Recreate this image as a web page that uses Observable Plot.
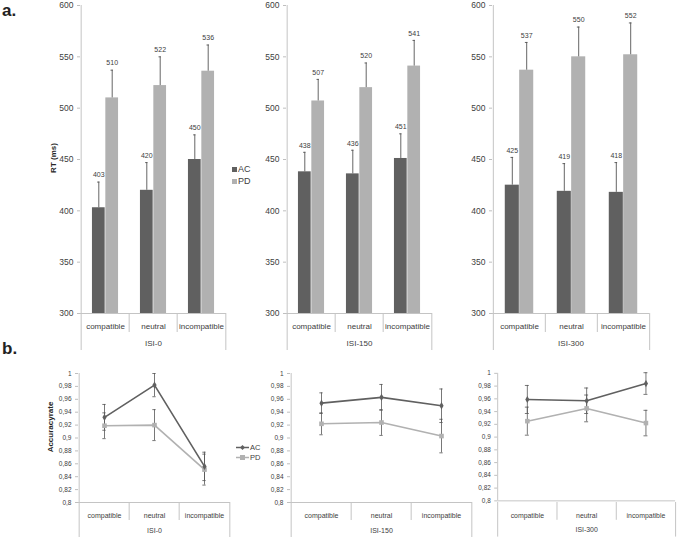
<!DOCTYPE html>
<html><head><meta charset="utf-8">
<script src="https://cdn.jsdelivr.net/npm/d3@7"></script>
<script src="https://cdn.jsdelivr.net/npm/@observablehq/plot@0.6"></script>
<style>
body{margin:0;background:#fff;font-family:"Liberation Sans",Arial,sans-serif;}
#root{position:relative;width:685px;height:539px;overflow:hidden;background:#fff;}
#root svg{position:absolute;overflow:visible;}
g[aria-label="y-axis"] line, g[aria-label="y-axis tick"] path{stroke:#bfbfbf;}
.t{position:absolute;color:#262626;white-space:nowrap;font-family:"Liberation Sans",Arial,sans-serif;}
.rot{transform:translate(-50%,-50%) rotate(-90deg);font-weight:bold;}
.lg{position:absolute;font-family:"Liberation Sans",Arial,sans-serif;color:#404040;}
.lg div{display:flex;align-items:center;}
</style></head><body><div id="root"></div>
<script>
// ---- data ----
const conditions = ["compatible", "neutral", "incompatible"];
const groups = ["AC", "PD"];
const isiLabels = ["ISI-0", "ISI-150", "ISI-300"];
const rtAC = [[403, 420, 450], [438, 436, 451], [425, 419, 418]];
const rtPD = [[510, 522, 536], [507, 520, 541], [537, 550, 552]];
const rtErrAC = [[25, 27, 24], [19, 23, 24], [27, 27, 29]];
const rtErrPD = [[27, 28, 25.5], [21, 24, 25], [27, 29, 31]];
const rtTicks = [300, 350, 400, 450, 500, 550, 600];
const accAC = [[0.932, 0.982, 0.856], [0.954, 0.963, 0.950], [0.959, 0.957, 0.984]];
const accPD = [[0.919, 0.920, 0.851], [0.922, 0.924, 0.903], [0.925, 0.945, 0.922]];
const accErrAC = [[0.020, 0.018, 0.022], [0.016, 0.020, 0.026], [0.022, 0.020, 0.017]];
const accErrPD = [[0.020, 0.024, 0.024], [0.017, 0.020, 0.026], [0.022, 0.021, 0.020]];
const accTicks = [0.8, 0.82, 0.84, 0.86, 0.88, 0.9, 0.92, 0.94, 0.96, 0.98, 1];

// ---- style / layout ----
const C = {dark: "#606060", light: "#b1b1b1", err: "#555555", axis: "#c4c4c4", text: "#404040"};
const FONT = "Liberation Sans, Arial, sans-serif";
const topLayout = [{x0: 80, x1: 226}, {x0: 286, x1: 432}, {x0: 492, x1: 649}];
const botLayout = [{x0: 78, x1: 230}, {x0: 290, x1: 472}, {x0: 503, x1: 683}];
const root = document.getElementById("root");
function place(el, left, top) { el.style.left = left + "px"; el.style.top = top + "px"; root.appendChild(el); }
function html(cls, txt, left, top, css) { const d = document.createElement("div"); d.className = cls; d.textContent = txt; Object.assign(d.style, css || {}); place(d, left, top); return d; }
const xBand = {type: "band", domain: conditions, padding: 0, axis: null};

// ---- panel a: reaction time bars ----
topLayout.forEach((L, p) => {
  const rows = conditions.map((c, i) => ({cond: c, ac: rtAC[p][i], pd: rtPD[p][i], eac: rtErrAC[p][i], epd: rtErrPD[p][i]}));
  const bw = (L.x1 - L.x0) / 3, barW = bw * 0.275, gap = (bw - 2 * barW) / 2;
  const cap = 1.5;
  const main = Plot.plot({
    width: L.x1 + 10, height: 333, marginLeft: L.x0, marginRight: 10, marginTop: 5, marginBottom: 20,
    style: {background: "transparent", fontFamily: FONT, fontSize: "8.5px", color: C.text},
    x: xBand,
    y: {domain: [rtTicks[0], rtTicks[rtTicks.length - 1]], ticks: rtTicks, tickSize: 3, tickPadding: 4, label: null},
    marks: [
      Plot.barY(rows, {x: "cond", y1: () => rtTicks[0], y2: "ac", fill: C.dark, insetLeft: gap, insetRight: gap + barW}),
      Plot.barY(rows, {x: "cond", y1: () => rtTicks[0], y2: "pd", fill: C.light, insetLeft: gap + barW, insetRight: gap}),
      Plot.ruleX(rows, {x: "cond", y1: "ac", y2: d => d.ac + d.eac, stroke: C.err, strokeWidth: 0.9, dx: -barW / 2}),
      Plot.ruleX(rows, {x: "cond", y1: "pd", y2: d => d.pd + d.epd, stroke: C.err, strokeWidth: 0.9, dx: barW / 2}),
      Plot.tickY(rows, {x: "cond", y: d => d.ac + d.eac, stroke: C.err, strokeWidth: 0.9, insetLeft: gap + barW / 2 - cap, insetRight: gap + barW * 1.5 - cap}),
      Plot.tickY(rows, {x: "cond", y: d => d.pd + d.epd, stroke: C.err, strokeWidth: 0.9, insetLeft: gap + barW * 1.5 - cap, insetRight: gap + barW / 2 - cap}),
      Plot.text(rows, {x: "cond", y: d => d.ac + d.eac, text: d => String(d.ac), dx: -barW / 2, dy: -7, fontSize: 7, fill: C.text}),
      Plot.text(rows, {x: "cond", y: d => d.pd + d.epd, text: d => String(d.pd), dx: barW / 2, dy: -7, fontSize: 7, fill: C.text}),
      Plot.ruleY([rtTicks[0]], {stroke: C.axis}),
      Plot.ruleX([conditions[0]], {x: d => d, dx: -bw / 2, stroke: C.axis})
    ]
  });
  place(main, 0, 0);
  const box = Plot.plot({
    width: L.x1 + 10, height: 37, marginLeft: L.x0, marginRight: 10, marginTop: 0, marginBottom: 0,
    style: {background: "transparent", fontFamily: FONT, fontSize: "8px", color: C.text},
    x: xBand,
    marks: [
      Plot.ruleX(conditions.slice(1), {x: d => d, dx: -bw / 2, stroke: C.axis, insetBottom: 18}),
      Plot.ruleX([conditions[0]], {x: d => d, dx: -bw / 2, stroke: C.axis}),
      Plot.ruleX([conditions[conditions.length - 1]], {x: d => d, dx: bw / 2, stroke: C.axis}),
      Plot.text(conditions, {x: d => d, text: d => d, frameAnchor: "top", dy: 10, fontSize: 8, fill: C.text}),
      Plot.text([isiLabels[p]], {text: d => d, frameAnchor: "bottom", dy: -5, fontSize: 8, fill: C.text})
    ]
  });
  place(box, 0, 313);
});

// ---- panel b: accuracy lines ----
botLayout.forEach((L, p) => {
  const ac = conditions.map((c, i) => ({cond: c, v: accAC[p][i], e: accErrAC[p][i]}));
  const pd = conditions.map((c, i) => ({cond: c, v: accPD[p][i], e: accErrPD[p][i]}));
  const all = pd.concat(ac);
  const bw = (L.x1 - L.x0) / 3, cap = 2;
  const top = 360;
  const main = Plot.plot({
    width: L.x1 + 10, height: 154, marginLeft: L.x0, marginRight: 10, marginTop: 373 - top, marginBottom: 154 - (502 - top),
    style: {background: "transparent", fontFamily: FONT, fontSize: "6.5px", color: C.text},
    x: xBand,
    y: {domain: [accTicks[0], accTicks[accTicks.length - 1]], ticks: accTicks, tickSize: 3, tickPadding: 4, label: null,
        tickFormat: d => String(d).replace(".", ",")},
    marks: [
      Plot.ruleY([accTicks[0]], {stroke: C.axis}),
      Plot.ruleX([conditions[0]], {x: d => d, dx: -bw / 2, stroke: C.axis}),
      Plot.line(pd, {x: "cond", y: "v", stroke: C.light, strokeWidth: 1.6}),
      Plot.line(ac, {x: "cond", y: "v", stroke: C.dark, strokeWidth: 1.6}),
      Plot.ruleX(all, {x: "cond", y1: d => d.v - d.e, y2: d => d.v + d.e, stroke: C.err, strokeWidth: 0.8}),
      Plot.tickY(all, {x: "cond", y: d => d.v - d.e, stroke: C.err, strokeWidth: 0.8, insetLeft: bw / 2 - cap, insetRight: bw / 2 - cap}),
      Plot.tickY(all, {x: "cond", y: d => d.v + d.e, stroke: C.err, strokeWidth: 0.8, insetLeft: bw / 2 - cap, insetRight: bw / 2 - cap}),
      Plot.dot(pd, {x: "cond", y: "v", symbol: "square", r: 2.6, fill: C.light, stroke: "none"}),
      Plot.dot(ac, {x: "cond", y: "v", symbol: "diamond", r: 2.2, fill: C.dark, stroke: "none"})
    ]
  });
  place(main, 0, top);
  const box = Plot.plot({
    width: L.x1 + 10, height: 35, marginLeft: L.x0, marginRight: 10, marginTop: 0, marginBottom: 0,
    style: {background: "transparent", fontFamily: FONT, fontSize: "7px", color: C.text},
    x: xBand,
    marks: [
      Plot.ruleX(conditions.slice(1), {x: d => d, dx: -bw / 2, stroke: C.axis, insetBottom: 17}),
      Plot.ruleX([conditions[0]], {x: d => d, dx: -bw / 2, stroke: C.axis}),
      Plot.ruleX([conditions[conditions.length - 1]], {x: d => d, dx: bw / 2, stroke: C.axis}),
      Plot.text(conditions, {x: d => d, text: d => d, frameAnchor: "top", dy: 11, fontSize: 7, fill: C.text}),
      Plot.text([isiLabels[p]], {text: d => d, frameAnchor: "bottom", dy: -5, fontSize: 7, fill: C.text})
    ]
  });
  place(box, 0, 502);
});

// ---- texts & legends ----
html("t", "a.", 2, 2, {fontSize: "17px", fontWeight: "bold", lineHeight: "17px", color: "#222"});
html("t", "b.", 2, 340, {fontSize: "17px", fontWeight: "bold", lineHeight: "17px", color: "#222"});
html("t rot", "RT (ms)", 53, 158, {fontSize: "8px"});
html("t rot", "Accuracyrate", 50, 427, {fontSize: "8px"});

const lgA = document.createElement("div"); lgA.className = "lg"; lgA.style.fontSize = "9px";
groups.forEach((g, i) => {
  const r = document.createElement("div"); r.style.height = "12px";
  r.innerHTML = `<span style="display:inline-block;width:5px;height:5px;margin-right:1px;background:${i ? C.light : C.dark}"></span>${g}`;
  lgA.appendChild(r);
});
place(lgA, 232, 163);

const lgB = document.createElement("div"); lgB.className = "lg"; lgB.style.fontSize = "7.5px";
groups.forEach((g, i) => {
  const r = document.createElement("div"); r.style.height = "10px";
  const col = i ? C.light : C.dark;
  const mk = i ? `<rect x="4" y="2" width="5" height="5" fill="${col}"/>` : `<path d="M6.5 2 L9 4.5 L6.5 7 L4 4.5Z" fill="${col}"/>`;
  r.innerHTML = `<svg width="13" height="9" style="position:static;margin-right:1px"><line x1="0" x2="13" y1="4.5" y2="4.5" stroke="${col}" stroke-width="1.5"/>${mk}</svg>${g}`;
  lgB.appendChild(r);
});
place(lgB, 236, 442);
</script></body></html>
